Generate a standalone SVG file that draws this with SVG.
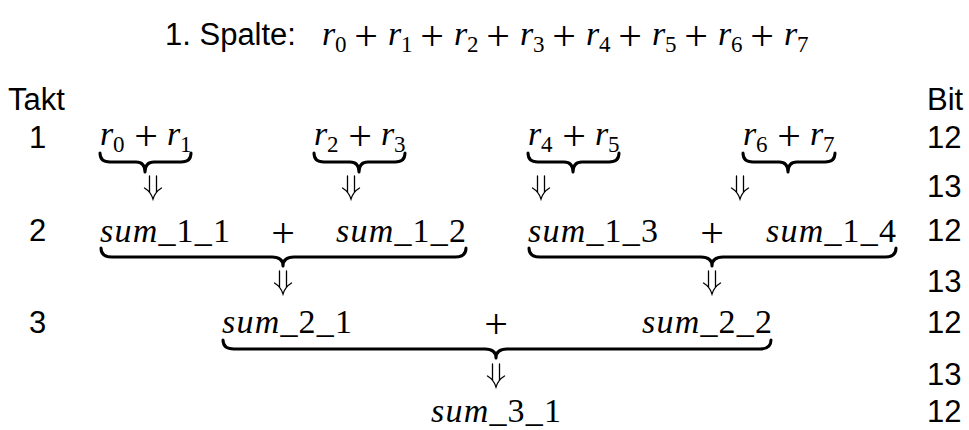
<svg xmlns="http://www.w3.org/2000/svg" xmlns:xlink="http://www.w3.org/1999/xlink" width="969" height="430" viewBox="0 0 969 430">
<style>
.sans{font-family:"Liberation Sans","DejaVu Sans",sans-serif;font-size:31px;fill:#000}
.mi{font-family:"Liberation Serif","DejaVu Serif",serif;font-style:italic;font-size:34px;fill:#000}
.up{font-style:normal}
.sub{font-family:"Liberation Serif","DejaVu Serif",serif;font-size:23px;fill:#000}
.op{font-family:"Liberation Serif","DejaVu Serif",serif;font-size:42px;fill:#000;text-anchor:middle}
.brace{fill:none;stroke:#000;stroke-width:3;stroke-linecap:round;stroke-linejoin:round}
.arr{fill:none;stroke:#000;stroke-width:1.3;stroke-linecap:round}
</style>
<defs>
<g id="dn">
<path class="arr" d="M-3.5,0 V16 M3.5,0 V16 M-8.5,12 Q-2,16 0,23 Q2,16 8.5,12"/>
</g>
</defs>
<rect width="969" height="430" fill="#fff"/>

<g id="title">
<text class="sans" x="165" y="45">1. Spalte:</text>
<text class="mi" x="322" y="45">r</text><text class="sub" x="335" y="52">0</text>
<text class="op" x="366" y="50">+</text>
<text class="mi" x="388" y="45">r</text><text class="sub" x="401" y="52">1</text>
<text class="op" x="432" y="50">+</text>
<text class="mi" x="454" y="45">r</text><text class="sub" x="467" y="52">2</text>
<text class="op" x="498" y="50">+</text>
<text class="mi" x="520" y="45">r</text><text class="sub" x="533" y="52">3</text>
<text class="op" x="564" y="50">+</text>
<text class="mi" x="586" y="45">r</text><text class="sub" x="599" y="52">4</text>
<text class="op" x="630" y="50">+</text>
<text class="mi" x="652" y="45">r</text><text class="sub" x="665" y="52">5</text>
<text class="op" x="696" y="50">+</text>
<text class="mi" x="718" y="45">r</text><text class="sub" x="731" y="52">6</text>
<text class="op" x="762" y="50">+</text>
<text class="mi" x="784" y="45">r</text><text class="sub" x="797" y="52">7</text>
</g>

<g id="col-takt">
<text class="sans" x="8" y="110">Takt</text>
<text class="sans" x="29" y="148">1</text>
<text class="sans" x="29" y="241">2</text>
<text class="sans" x="29" y="333">3</text>
</g>

<g id="col-bit">
<text class="sans" x="927" y="110">Bit</text>
<text class="sans" x="927" y="148">12</text>
<text class="sans" x="927" y="197">13</text>
<text class="sans" x="927" y="241">12</text>
<text class="sans" x="927" y="292">13</text>
<text class="sans" x="927" y="333">12</text>
<text class="sans" x="927" y="385">13</text>
<text class="sans" x="927" y="422">12</text>
</g>

<g id="r01">
<text class="mi" x="100" y="145">r</text><text class="sub" x="113" y="152">0</text>
<text class="op" x="146" y="150">+</text>
<text class="mi" x="167" y="145">r</text><text class="sub" x="180" y="152">1</text>
</g>
<g id="r23">
<text class="mi" x="314" y="145">r</text><text class="sub" x="327" y="152">2</text>
<text class="op" x="360" y="150">+</text>
<text class="mi" x="381" y="145">r</text><text class="sub" x="394" y="152">3</text>
</g>
<g id="r45">
<text class="mi" x="528" y="145">r</text><text class="sub" x="541" y="152">4</text>
<text class="op" x="574" y="150">+</text>
<text class="mi" x="595" y="145">r</text><text class="sub" x="608" y="152">5</text>
</g>
<g id="r67">
<text class="mi" x="743" y="145">r</text><text class="sub" x="756" y="152">6</text>
<text class="op" x="789" y="150">+</text>
<text class="mi" x="810" y="145">r</text><text class="sub" x="823" y="152">7</text>
</g>

<g id="sum_1_1"><text class="mi" x="100" y="242" textLength="130">sum<tspan class="up">_1_1</tspan></text></g>
<g id="plus_1a"><text class="op" x="283" y="247">+</text></g>
<g id="sum_1_2"><text class="mi" x="336" y="242" textLength="130">sum<tspan class="up">_1_2</tspan></text></g>
<g id="sum_1_3"><text class="mi" x="528" y="242" textLength="130">sum<tspan class="up">_1_3</tspan></text></g>
<g id="plus_1b"><text class="op" x="712" y="247">+</text></g>
<g id="sum_1_4"><text class="mi" x="766" y="242" textLength="130">sum<tspan class="up">_1_4</tspan></text></g>

<g id="sum_2_1"><text class="mi" x="222" y="333" textLength="130">sum<tspan class="up">_2_1</tspan></text></g>
<g id="plus_2"><text class="op" x="496" y="338">+</text></g>
<g id="sum_2_2"><text class="mi" x="642" y="333" textLength="130">sum<tspan class="up">_2_2</tspan></text></g>

<g id="sum_3_1"><text class="mi" x="431" y="422" textLength="130">sum<tspan class="up">_3_1</tspan></text></g>

<g id="connectors">
<path class="brace" d="M100,153 Q100,162 110,162 L136,162 Q145,162 145,172 Q145,162 154,162 L181,162 Q191,162 191,153"/>
<path class="brace" d="M314,153 Q314,162 324,162 L350,162 Q359,162 359,172 Q359,162 368,162 L395,162 Q405,162 405,153"/>
<path class="brace" d="M528,153 Q528,162 538,162 L564,162 Q573,162 573,172 Q573,162 582,162 L609,162 Q619,162 619,153"/>
<path class="brace" d="M743,153 Q743,162 753,162 L779,162 Q788,162 788,172 Q788,162 797,162 L825,162 Q835,162 835,153"/>
<path class="brace" d="M101,248 Q101,257 112,257 L272,257 Q283,257 283,266 Q283,257 294,257 L455,257 Q466,257 466,248"/>
<path class="brace" d="M529,248 Q529,257 540,257 L701,257 Q712,257 712,266 Q712,257 723,257 L885,257 Q896,257 896,248"/>
<path class="brace" d="M223,340 Q223,349 234,349 L485,349 Q496,349 496,358 Q496,349 507,349 L760,349 Q771,349 771,340"/>
<use xlink:href="#dn" x="153" y="176"/>
<use xlink:href="#dn" x="351" y="176"/>
<use xlink:href="#dn" x="541" y="176"/>
<use xlink:href="#dn" x="740" y="176"/>
<use xlink:href="#dn" x="283" y="271"/>
<use xlink:href="#dn" x="712" y="271"/>
<use xlink:href="#dn" x="496" y="364"/>
</g>
</svg>
